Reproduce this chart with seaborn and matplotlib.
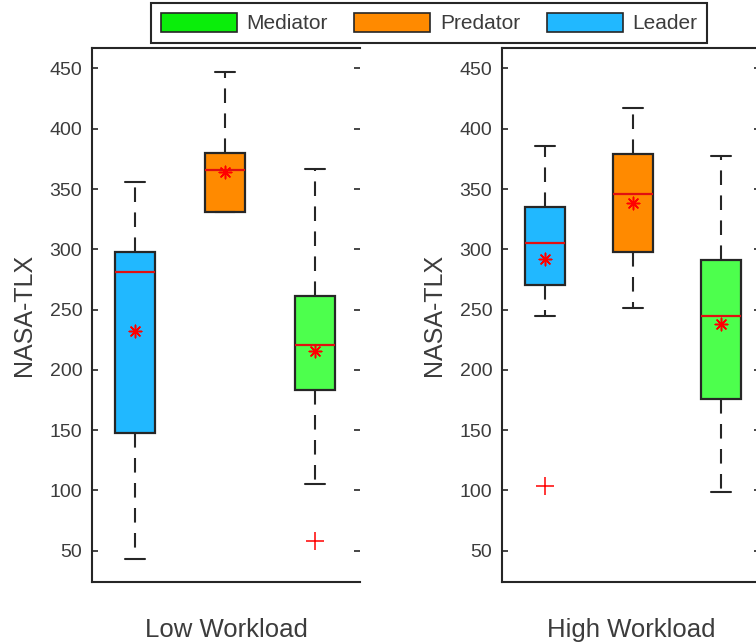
import matplotlib
matplotlib.use("Agg")
import matplotlib.pyplot as plt
from matplotlib.patches import Patch
import seaborn as sns
import pandas as pd

# categories, left to right inside each panel
roles = ["Leader", "Predator", "Mediator"]
legend_order = ["Mediator", "Predator", "Leader"]
box_colors = {"Leader": "#21B8FF", "Predator": "#FF8A00", "Mediator": "#4DFF4D"}
legend_colors = {"Leader": "#21B8FF", "Predator": "#FF8A00", "Mediator": "#0AEE0A"}

# Low workload
low_whislo = [43, 331, 105]
low_q1 = [148, 331, 183]
low_med = [281, 366, 221]
low_q3 = [298, 380, 261]
low_whishi = [356, 447, 367]
low_mean = [232, 364, 216]
low_outliers = [[], [], [58]]

# High workload
high_whislo = [245, 251, 99]
high_q1 = [270, 298, 176]
high_med = [305, 346, 245]
high_q3 = [335, 379, 291]
high_whishi = [386, 417, 377]
high_mean = [292, 338, 238]
high_outliers = [[104], [], []]

y_ticks = [50, 100, 150, 200, 250, 300, 350, 400, 450]

sns.set_theme(style="white")
plt.rcParams['font.family'] = ['Liberation Sans', 'DejaVu Sans']

TXT = "#3c3c3c"
EDGE = "#262626"


def draw_panel(ax, label, whislo, q1, med, q3, whishi, mean, outliers, xlim):
    stats = []
    for i, r in enumerate(roles):
        stats.append({"label": r, "med": med[i], "q1": q1[i], "q3": q3[i],
                      "whislo": whislo[i], "whishi": whishi[i], "fliers": []})
    bp = ax.bxp(stats, positions=[0, 1, 2], widths=0.45, patch_artist=True,
                showfliers=False, manage_ticks=False,
                boxprops=dict(edgecolor=EDGE, linewidth=1.6),
                whiskerprops=dict(color=EDGE, linewidth=1.5, linestyle=(0, (7, 5))),
                capprops=dict(color=EDGE, linewidth=1.5),
                medianprops=dict(color="#E01010", linewidth=1.6))
    for patch, r in zip(bp["boxes"], roles):
        patch.set_facecolor(box_colors[r])

    # means as red asterisks, outliers as red plus signs
    mean_df = pd.DataFrame({"pos": [0, 1, 2], "value": mean})
    sns.scatterplot(data=mean_df, x="pos", y="value", marker=(8, 2, 0), color="red",
                    s=80, linewidth=1.1, legend=False, ax=ax, zorder=5)
    out_pos, out_val = [], []
    for i, vals in enumerate(outliers):
        for v in vals:
            out_pos.append(i)
            out_val.append(v)
    if out_val:
        out_df = pd.DataFrame({"pos": out_pos, "value": out_val})
        sns.scatterplot(data=out_df, x="pos", y="value", marker="+", color="red",
                        s=150, linewidth=1.1, legend=False, ax=ax, zorder=5)

    ax.set_xlim(*xlim)
    ax.set_ylim(24, 467)
    ax.set_xticks([])
    ax.set_yticks(y_ticks)
    ax.tick_params(axis="y", direction="in", length=4.5, width=1.2, left=True, right=True,
                   pad=7, labelsize=14, color=EDGE, labelcolor=TXT)
    for side in ["left", "top", "bottom"]:
        ax.spines[side].set_color(EDGE)
        ax.spines[side].set_linewidth(1.5)
    ax.spines["right"].set_visible(False)
    ax.set_xlabel(label, fontsize=18.5, color=TXT, labelpad=26)
    ax.set_ylabel("NASA-TLX", fontsize=18, color=TXT, labelpad=10)


fig = plt.figure(figsize=(7.56, 6.44), dpi=100)
ax1 = fig.add_axes([92 / 756, 62 / 644, 268 / 756, 534 / 644])
ax2 = fig.add_axes([502 / 756, 62 / 644, 258 / 756, 534 / 644])

draw_panel(ax1, "Low Workload", low_whislo, low_q1, low_med, low_q3, low_whishi,
           low_mean, low_outliers, (-0.478, 2.5))
draw_panel(ax2, "High Workload", high_whislo, high_q1, high_med, high_q3, high_whishi,
           high_mean, high_outliers, (-0.489, 2.443))

handles = [Patch(facecolor=legend_colors[r], edgecolor=EDGE, linewidth=1.2) for r in legend_order]
leg = fig.legend(handles, legend_order, loc="center", bbox_to_anchor=(429 / 756, 1 - 23 / 644),
                 ncol=3, fontsize=15, handlelength=3.65, handleheight=1.05, handletextpad=0.45,
                 columnspacing=1.3, borderpad=0.45, fancybox=False, framealpha=1,
                 edgecolor=EDGE)
leg.get_frame().set_linewidth(1.5)
for t in leg.get_texts():
    t.set_color(TXT)

fig.savefig("out.png", dpi=100)
